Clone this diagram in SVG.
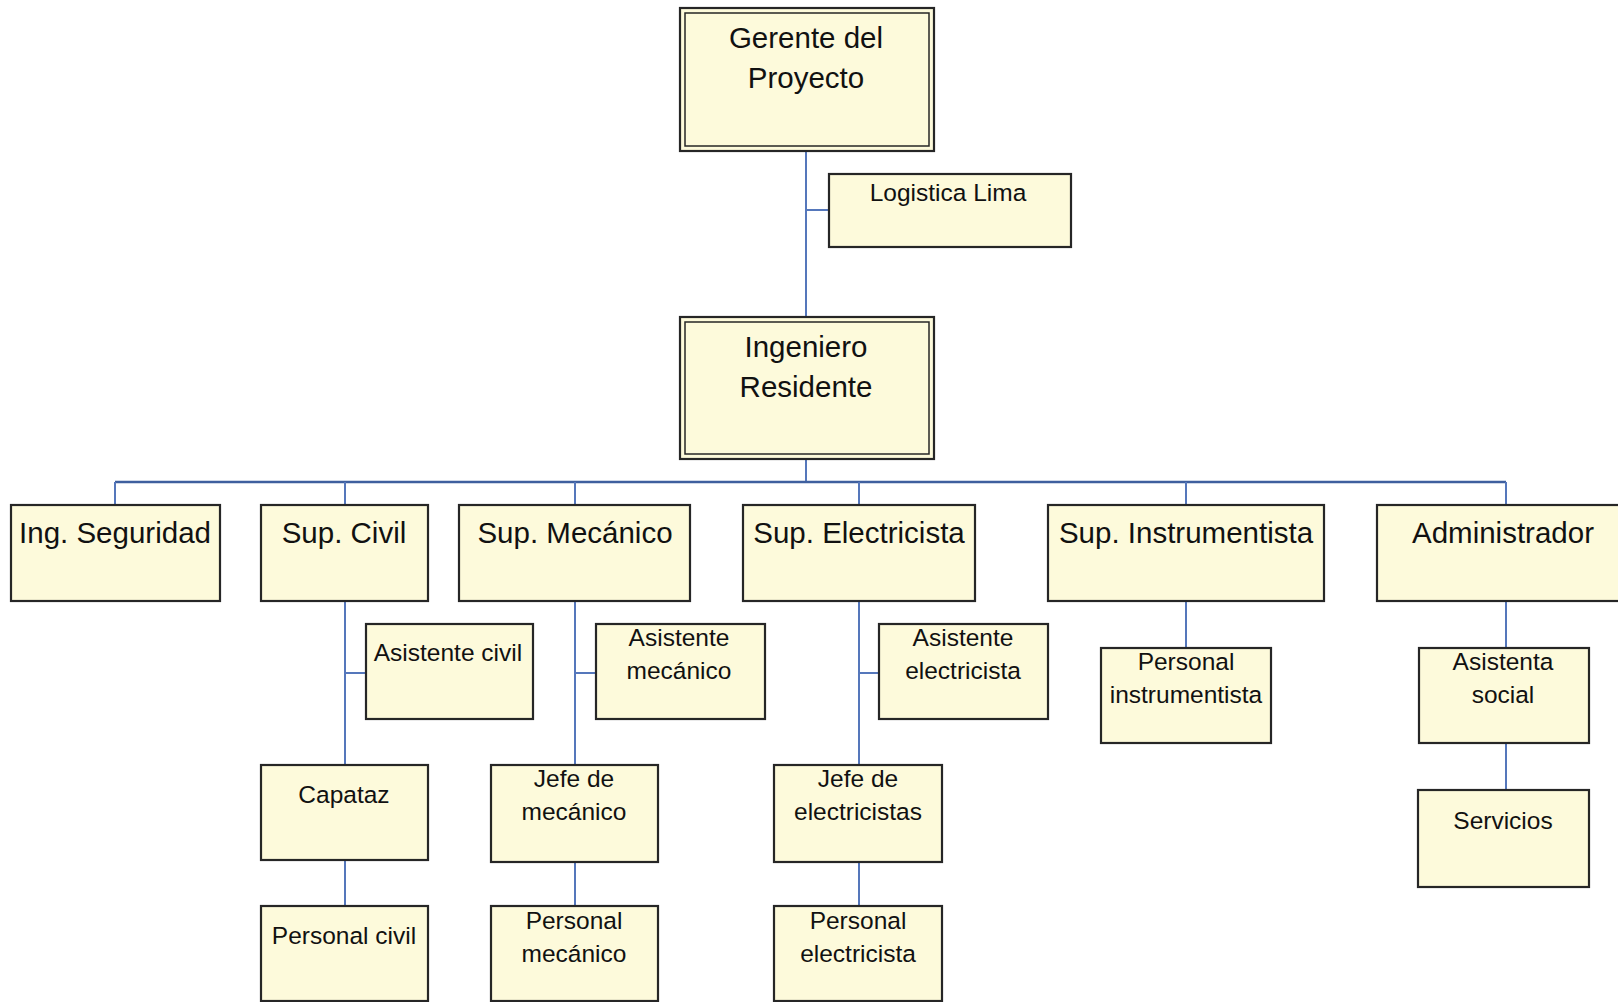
<svg xmlns="http://www.w3.org/2000/svg" width="1618" height="1002" viewBox="0 0 1618 1002">
<style>
.box{fill:#fdfadb;stroke:#262626;stroke-width:2.2}
.dbl{fill:none;stroke:#262626;stroke-width:1.5}
.big{font-family:"Liberation Sans",Arial,sans-serif;font-size:29.5px;fill:#111;text-anchor:middle}
.sm{font-family:"Liberation Sans",Arial,sans-serif;font-size:24.5px;fill:#111;text-anchor:middle}
.con{fill:none;stroke:#5577bb;stroke-width:2}
.bus{fill:none;stroke:#3e5f9e;stroke-width:2.5}
</style>
<rect width="1618" height="1002" fill="#ffffff"/>
<g id="connectors">
<path class="con" d="M806 151V317M806 210H829"/>
<path class="con" d="M806 459V482"/>
<path class="bus" d="M115 482H1506"/>
<path class="con" d="M115 482V505M345 482V505M575 482V505M859 482V505M1186 482V505M1506 482V505"/>
<path class="con" d="M345 601V765M345 673H366"/>
<path class="con" d="M345 860V906"/>
<path class="con" d="M575 601V765M575 673H596"/>
<path class="con" d="M575 862V906"/>
<path class="con" d="M859 601V765M859 673H879"/>
<path class="con" d="M859 862V906"/>
<path class="con" d="M1186 601V648"/>
<path class="con" d="M1506 601V648M1506 743V790"/>
</g>
<g id="gerente">
<rect class="box" x="680" y="8" width="254" height="143" stroke-width="3"/>
<rect class="dbl" x="685" y="13" width="244" height="133"/>
<text class="big" x="806" y="48">Gerente del</text>
<text class="big" x="806" y="88">Proyecto</text>
</g>
<g id="logistica">
<rect class="box" x="829" y="174" width="242" height="73"/>
<text class="sm" x="948" y="201">Logistica Lima</text>
</g>
<g id="ingeniero">
<rect class="box" x="680" y="317" width="254" height="142" stroke-width="3"/>
<rect class="dbl" x="685" y="322" width="244" height="132"/>
<text class="big" x="806" y="357">Ingeniero</text>
<text class="big" x="806" y="397">Residente</text>
</g>
<g id="seguridad">
<rect class="box" x="11" y="505" width="209" height="96"/>
<text class="big" x="115" y="543">Ing. Seguridad</text>
</g>
<g id="supcivil">
<rect class="box" x="261" y="505" width="167" height="96"/>
<text class="big" x="344" y="543">Sup. Civil</text>
</g>
<g id="supmecanico">
<rect class="box" x="459" y="505" width="231" height="96"/>
<text class="big" x="575" y="543">Sup. Mecánico</text>
</g>
<g id="supelectricista">
<rect class="box" x="743" y="505" width="232" height="96"/>
<text class="big" x="859" y="543">Sup. Electricista</text>
</g>
<g id="supinstrumentista">
<rect class="box" x="1048" y="505" width="276" height="96"/>
<text class="big" x="1186" y="543">Sup. Instrumentista</text>
</g>
<g id="administrador">
<rect class="box" x="1377" y="505" width="252" height="96"/>
<text class="big" x="1503" y="543">Administrador</text>
</g>
<g id="asistentecivil">
<rect class="box" x="366" y="624" width="167" height="95"/>
<text class="sm" x="448" y="661">Asistente civil</text>
</g>
<g id="asistentemecanico">
<rect class="box" x="596" y="624" width="169" height="95"/>
<text class="sm" x="679" y="646">Asistente</text>
<text class="sm" x="679" y="679">mecánico</text>
</g>
<g id="asistenteelectricista">
<rect class="box" x="879" y="624" width="169" height="95"/>
<text class="sm" x="963" y="646">Asistente</text>
<text class="sm" x="963" y="679">electricista</text>
</g>
<g id="personalinstrumentista">
<rect class="box" x="1101" y="648" width="170" height="95"/>
<text class="sm" x="1186" y="670">Personal</text>
<text class="sm" x="1186" y="703">instrumentista</text>
</g>
<g id="asistentasocial">
<rect class="box" x="1419" y="648" width="170" height="95"/>
<text class="sm" x="1503" y="670">Asistenta</text>
<text class="sm" x="1503" y="703">social</text>
</g>
<g id="capataz">
<rect class="box" x="261" y="765" width="167" height="95"/>
<text class="sm" x="344" y="803">Capataz</text>
</g>
<g id="jefemecanico">
<rect class="box" x="491" y="765" width="167" height="97"/>
<text class="sm" x="574" y="787">Jefe de</text>
<text class="sm" x="574" y="820">mecánico</text>
</g>
<g id="jefeelectricistas">
<rect class="box" x="774" y="765" width="168" height="97"/>
<text class="sm" x="858" y="787">Jefe de</text>
<text class="sm" x="858" y="820">electricistas</text>
</g>
<g id="servicios">
<rect class="box" x="1418" y="790" width="171" height="97"/>
<text class="sm" x="1503" y="829">Servicios</text>
</g>
<g id="personalcivil">
<rect class="box" x="261" y="906" width="167" height="95"/>
<text class="sm" x="344" y="944">Personal civil</text>
</g>
<g id="personalmecanico">
<rect class="box" x="491" y="906" width="167" height="95"/>
<text class="sm" x="574" y="929">Personal</text>
<text class="sm" x="574" y="962">mecánico</text>
</g>
<g id="personalelectricista">
<rect class="box" x="774" y="906" width="168" height="95"/>
<text class="sm" x="858" y="929">Personal</text>
<text class="sm" x="858" y="962">electricista</text>
</g>
</svg>
